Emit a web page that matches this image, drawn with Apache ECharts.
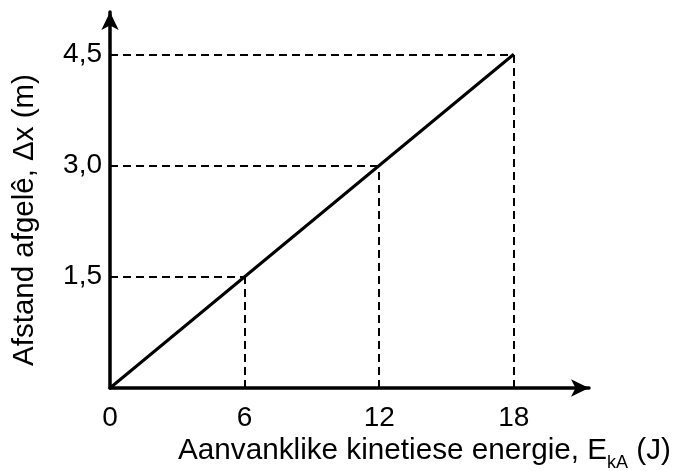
<!DOCTYPE html>
<html>
<head>
<meta charset="utf-8">
<script src="https://cdn.jsdelivr.net/npm/echarts@6/dist/echarts.min.js"></script>
<style>
  html, body { margin: 0; padding: 0; background: #fff; }
  #chart { width: 677px; height: 471px; }
</style>
</head>
<body>
<div id="chart"></div>
<script>
// data
var energyJ = [0, 6, 12, 18]
var distanceM = [0, 1.5, 3.0, 4.5]
var xTicks = [0, 6, 12, 18]
var yTicks = [1.5, 3.0, 4.5]

var chart = echarts.init(document.getElementById('chart'))

var points = energyJ.map(function (x, i) { return [x, distanceM[i]] })

// dashed guide lines from each point back to the axes
var guides = []
points.forEach(function (p) {
  if (p[0] === 0) return
  guides.push([{ coord: [0, p[1]] }, { coord: [p[0], p[1]] }])
  guides.push([{ coord: [p[0], 0] }, { coord: [p[0], p[1]] }])
})

var font = 'Liberation Sans, Arial, sans-serif'

var option = {
  animation: false,
  grid: {
    left: 110,
    right: 88,
    top: 12,
    bottom: 83
  },
  xAxis: {
    type: 'value',
    min: 0,
    max: 21.35,
    interval: 6,
    axisLine: {
      show: true,
      symbol: ['none', 'arrow'],
      symbolSize: [13, 18],
      lineStyle: { color: '#000', width: 3.5 }
    },
    axisTick: { show: false },
    splitLine: { show: false },
    axisLabel: {
      showMaxLabel: false,
      color: '#000',
      fontFamily: font,
      fontSize: 28,
      margin: 16,
      formatter: function (v) {
        return xTicks.indexOf(v) >= 0 ? String(v) : ''
      }
    }
  },
  yAxis: {
    type: 'value',
    min: 0,
    max: 5.07,
    interval: 1.5,
    axisLine: {
      show: true,
      symbol: ['none', 'arrow'],
      symbolSize: [13, 18],
      lineStyle: { color: '#000', width: 3.5 }
    },
    axisTick: { show: false },
    splitLine: { show: false },
    axisLabel: {
      showMaxLabel: false,
      color: '#000',
      fontFamily: font,
      fontSize: 28,
      margin: 8,
      formatter: function (v) {
        var hit = yTicks.some(function (t) { return Math.abs(t - v) < 1e-6 })
        return hit ? v.toFixed(1).replace('.', ',') : ''
      }
    }
  },
  graphic: [
    {
      type: 'text',
      left: 178,
      top: 436,
      style: {
        text: '{a|Aanvanklike kinetiese energie, E}{s|kA}{a| (J)}',
        rich: {
          a: { fontFamily: font, fontSize: 29.7, fill: '#000', verticalAlign: 'bottom' },
          s: { fontFamily: font, fontSize: 18, fill: '#000', verticalAlign: 'bottom', padding: [0, 0, -6, 0] }
        }
      }
    },
    {
      type: 'text',
      x: 25,
      y: 220,
      rotation: Math.PI / 2,
      style: {
        text: 'Afstand afgelê, Δx (m)',
        fontFamily: font,
        fontSize: 29.5,
        fill: '#000',
        align: 'center',
        verticalAlign: 'middle'
      }
    }
  ],
  series: [
    {
      type: 'line',
      data: points,
      symbol: 'none',
      lineStyle: { color: '#000', width: 3 },
      z: 3,
      markLine: {
        silent: true,
        symbol: ['none', 'none'],
        label: { show: false },
        lineStyle: { color: '#000', width: 2, type: [8, 5] },
        data: guides
      }
    }
  ]
}

chart.setOption(option)
</script>
</body>
</html>
